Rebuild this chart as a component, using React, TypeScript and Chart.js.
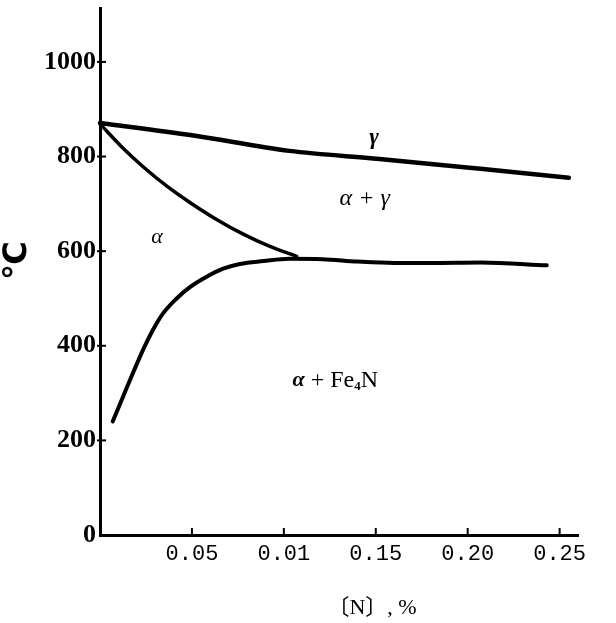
import React, { useEffect, useRef } from "react";
import { Chart, registerables } from "chart.js";

Chart.register(...registerables);

// ---- data ----
const xTickValues = [0.05, 0.1, 0.15, 0.2, 0.25];
const xTickLabels = ["0.05", "0.01", "0.15", "0.20", "0.25"];
const yTickValues = [0, 200, 400, 600, 800, 1000];

// γ / (α+γ) boundary
const gammaX = [0, 0.05, 0.103, 0.152, 0.207, 0.255];
const gammaY = [871, 845, 812, 795, 774, 755];

// α / (α+γ) boundary
const alphaGammaX = [0, 0.0127, 0.0236, 0.0362, 0.0489, 0.0634, 0.0779, 0.0924, 0.107];
const alphaGammaY = [869, 817, 778, 738, 703, 667, 636, 610, 589];

// α / (α+Fe4N) solvus and eutectoid line
const solvusX = [0.0069, 0.0127, 0.0181, 0.0236, 0.029, 0.0344, 0.0417, 0.0489, 0.058, 0.067, 0.0761, 0.0888, 0.103, 0.121, 0.14, 0.16, 0.18, 0.207, 0.243];
const solvusY = [240, 294, 344, 393, 435, 469, 500, 524, 546, 563, 573, 579, 584, 583, 578, 575, 575, 576, 570];

// region labels (data coordinates)
const regionLabels = [
  { text: "γ", x: 0.149, y: 840, font: "bold italic 23px 'Liberation Serif'" },
  { text: "α + γ", x: 0.144, y: 711, font: "italic 24px 'Liberation Serif'" },
  { text: "α", x: 0.031, y: 629, font: "italic 22px 'Liberation Serif'" },
];
const fe4nLabel = { x: 0.128, y: 327 };
const xTitle = { text: "〔N〕, %", x: 0.148 };
const yTitle = { text: "℃", y: 580 };

const toPoints = (xs: number[], ys: number[]) => xs.map((x, i) => ({ x, y: ys[i] }));

const overlay = {
  id: "overlay",
  afterDraw(chart: any) {
    const ctx = chart.ctx;
    const xs = chart.scales.x;
    const ys = chart.scales.y;
    const area = chart.chartArea;
    ctx.save();
    ctx.strokeStyle = "#000";
    ctx.lineWidth = 2;
    yTickValues.forEach((v) => {
      if (v === 0) return;
      const py = ys.getPixelForValue(v);
      ctx.beginPath();
      ctx.moveTo(area.left - 3, py);
      ctx.lineTo(area.left + 6, py);
      ctx.stroke();
    });
    xTickValues.forEach((v) => {
      const px = xs.getPixelForValue(v);
      ctx.beginPath();
      ctx.moveTo(px, area.bottom);
      ctx.lineTo(px, area.bottom - 7);
      ctx.stroke();
    });

    ctx.fillStyle = "#000";
    ctx.textAlign = "center";
    ctx.textBaseline = "middle";
    regionLabels.forEach((l) => {
      ctx.font = l.font;
      ctx.fillText(l.text, xs.getPixelForValue(l.x), ys.getPixelForValue(l.y));
    });

    // α + Fe4N with subscript
    const cx = xs.getPixelForValue(fe4nLabel.x);
    const cy = ys.getPixelForValue(fe4nLabel.y);
    const parts = [
      { t: "α", f: "bold italic 22px 'Liberation Serif'", dy: 0 },
      { t: " + Fe", f: "24px 'Liberation Serif'", dy: 0 },
      { t: "4", f: "bold 13px 'Liberation Serif'", dy: 6 },
      { t: "N", f: "24px 'Liberation Serif'", dy: 0 },
    ];
    let total = 0;
    parts.forEach((p) => {
      ctx.font = p.f;
      total += ctx.measureText(p.t).width;
    });
    let x = cx - total / 2;
    ctx.textAlign = "left";
    parts.forEach((p) => {
      ctx.font = p.f;
      ctx.fillText(p.t, x, cy + p.dy);
      x += ctx.measureText(p.t).width;
    });

    // x-axis title
    ctx.textAlign = "center";
    ctx.font = "22px 'Liberation Serif', 'Noto Sans CJK SC'";
    ctx.fillText(xTitle.text, xs.getPixelForValue(xTitle.x), area.bottom + 73);

    // y-axis title (rotated)
    ctx.save();
    ctx.translate(18, ys.getPixelForValue(yTitle.y));
    ctx.rotate(-Math.PI / 2);
    ctx.font = "bold 32px 'DejaVu Sans'";
    ctx.fillText(yTitle.text, 0, 0);
    ctx.restore();
    ctx.restore();
  },
};

export default function App() {
  const ref = useRef<HTMLCanvasElement>(null);

  useEffect(() => {
    if (!ref.current) return;
    const lineStyle = {
      borderColor: "#000",
      backgroundColor: "#000",
      borderWidth: 4,
      pointRadius: 0,
      showLine: true,
      fill: false,
      cubicInterpolationMode: "monotone" as const,
      borderCapStyle: "round" as const,
      borderJoinStyle: "round" as const,
      clip: false as any,
    };
    const chart = new Chart(ref.current, {
      type: "scatter",
      data: {
        datasets: [
          { label: "γ", data: toPoints(gammaX, gammaY), ...lineStyle, borderWidth: 4.5 },
          { label: "α/α+γ", data: toPoints(alphaGammaX, alphaGammaY), ...lineStyle, borderWidth: 3.5 },
          { label: "α/α+Fe4N", data: toPoints(solvusX, solvusY), ...lineStyle },
        ],
      },
      options: {
        responsive: false,
        animation: false,
        layout: { padding: { top: 8, right: 38, left: 0, bottom: 0 } },
        plugins: { legend: { display: false }, tooltip: { enabled: false } },
        scales: {
          x: {
            type: "linear",
            min: 0,
            max: 0.26,
            afterBuildTicks: (s: any) => {
              s.ticks = xTickValues.map((v) => ({ value: v }));
            },
            afterFit: (s: any) => {
              s.height = 88;
              s.paddingLeft = 0;
              s.paddingRight = 0;
            },
            ticks: {
              autoSkip: false,
              maxRotation: 0,
              padding: 6,
              color: "#000",
              font: { family: "'Liberation Mono'", size: 22 },
              callback: (v: any) => {
                const i = xTickValues.findIndex((t) => Math.abs(t - Number(v)) < 1e-9);
                return i >= 0 ? xTickLabels[i] : "";
              },
            },
            grid: { display: true, drawOnChartArea: false, drawTicks: false },
            border: { display: true, color: "#000", width: 3 },
            title: { display: false },
          },
          y: {
            type: "linear",
            min: 0,
            max: 1114,
            afterBuildTicks: (s: any) => {
              s.ticks = yTickValues.map((v) => ({ value: v }));
            },
            afterFit: (s: any) => {
              s.width = 100;
              s.paddingTop = 0;
              s.paddingBottom = 0;
            },
            ticks: {
              autoSkip: false,
              padding: 4,
              color: "#000",
              font: { family: "'Liberation Serif'", size: 26, weight: "bold" },
              callback: (v: any) => String(v),
            },
            grid: { display: true, drawOnChartArea: false, drawTicks: false },
            border: { display: true, color: "#000", width: 3 },
            title: { display: false },
          },
        },
      },
      plugins: [overlay],
    });
    return () => chart.destroy();
  }, []);

  return (
    <div style={{ position: "absolute", left: 0, top: 0, width: 616, height: 623, background: "#fff" }}>
      <canvas ref={ref} width={616} height={623} style={{ display: "block" }} />
    </div>
  );
}
